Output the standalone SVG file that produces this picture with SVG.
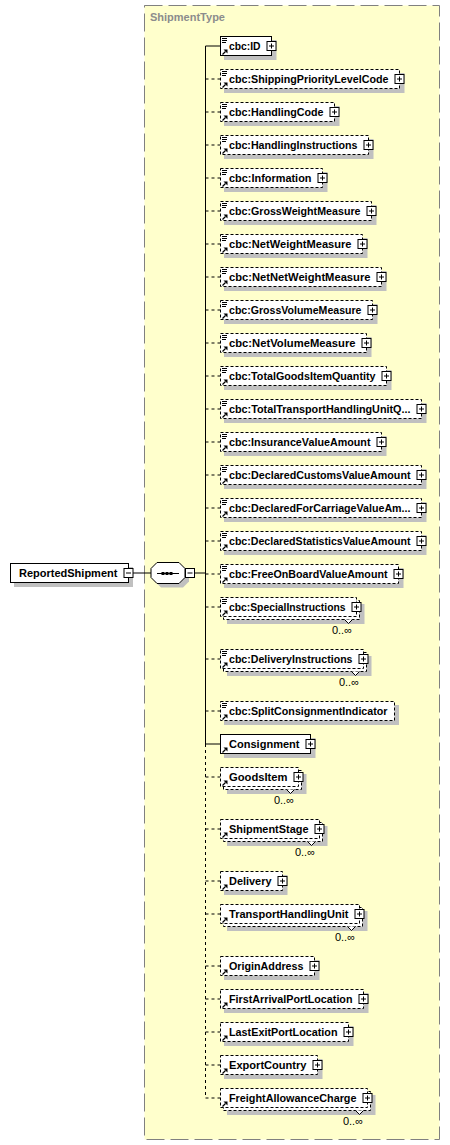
<svg xmlns="http://www.w3.org/2000/svg" xmlns:xlink="http://www.w3.org/1999/xlink" width="450" height="1145" viewBox="0 0 450 1145">
<style>
.sh{fill:#c0c0c0}
.bx{fill:#fff;stroke:#000;stroke-width:1}
.opt{stroke-dasharray:3,2}
.t{font-family:"Liberation Sans",Arial,sans-serif;font-size:11px;font-weight:bold;fill:#000}
.occ{font-family:"Liberation Sans",Arial,sans-serif;font-size:11px;fill:#000}
.ln{stroke:#000;stroke-width:1;fill:none}
.dl{stroke-dasharray:3,3}
.notch{fill:#fff;stroke:#000;stroke-width:1}
</style>
<defs>
<g id="plus"><rect x="-4.5" y="-4.5" width="9" height="9" fill="#fff" stroke="#000"/><path d="M-2.5,0H2.5M0,-2.5V2.5" stroke="#000"/></g>
<g id="minus"><rect x="-4.5" y="-4.5" width="9" height="9" fill="#fff" stroke="#000"/><path d="M-2.5,0H2.5" stroke="#000"/></g>
<g id="doc"><path d="M222,-7.5H227M222,-5.5H227M222,-3.5H226" stroke="#000" stroke-width="1"/></g>
<g id="arr"><path d="M222.5,8.5L225.5,5.5" stroke="#000" stroke-width="1.3"/><polygon points="223.5,3.5 227.5,3.5 227.5,7.5" fill="#000"/></g>
</defs>

<g id="ShipmentType">
<rect x="144.5" y="5.5" width="295" height="1134" fill="#ffffcc" stroke="#808080" stroke-dasharray="18,6"/>
<text x="150" y="21" style="font-family:'Liberation Sans',Arial,sans-serif;font-size:11px;font-weight:bold;fill:#8c8c8c">ShipmentType</text>
</g>

<g id="connectors">
<path class="ln" d="M133,573H151M194.5,573H205.5"/>
<path class="ln" d="M205.5,46V744"/>
<path class="ln dl" d="M205.5,744V1098"/>
<path class="ln" d="M205.5,46H220.5M205.5,744H220.5"/>
<path class="ln dl" d="M205.5,79H220.5M205.5,112H220.5M205.5,145H220.5M205.5,178H220.5M205.5,211H220.5M205.5,244H220.5M205.5,277H220.5M205.5,310H220.5M205.5,343H220.5M205.5,376H220.5M205.5,409H220.5M205.5,442H220.5M205.5,475H220.5M205.5,508H220.5M205.5,541H220.5M205.5,574H220.5M205.5,607H220.5M205.5,659H220.5M205.5,711H220.5M205.5,777H220.5M205.5,829H220.5M205.5,881H220.5M205.5,914H220.5M205.5,966H220.5M205.5,999H220.5M205.5,1032H220.5M205.5,1065H220.5M205.5,1098H220.5"/>
</g>

<g id="ReportedShipment">
<rect class="sh" x="14" y="567" width="119" height="20"/>
<rect class="bx" x="10.5" y="563.5" width="118" height="19"/>
<text class="t" x="19" y="577">ReportedShipment</text>
<use xlink:href="#minus" x="128.5" y="573"/>
</g>

<g id="sequence">
<polygon class="sh" points="161,566.5 183,566.5 189,572.5 189,581.5 183,587.5 161,587.5 155,581.5 155,572.5"/>
<polygon class="bx" points="157,562.5 179,562.5 185,568.5 185,577.5 179,583.5 157,583.5 151,577.5 151,568.5"/>
<path d="M157,573.5H179" stroke="#000"/>
<rect x="161.5" y="572" width="3" height="3" fill="#000"/>
<rect x="165.5" y="572" width="3" height="3" fill="#000"/>
<rect x="169.5" y="572" width="3" height="3" fill="#000"/>
<use xlink:href="#minus" x="190" y="573"/>
</g>

<g id="cbc-ID">
<rect class="sh" x="224" y="40" width="52.5" height="20"/>
<rect class="bx" x="220.5" y="36.5" width="51" height="19"/>
<use xlink:href="#doc" y="46"/><use xlink:href="#arr" y="46"/>
<text class="t" x="229" y="50" textLength="31.5" lengthAdjust="spacingAndGlyphs">cbc:ID</text>
<use xlink:href="#plus" x="271.5" y="46"/>
</g>

<g id="cbc-ShippingPriorityLevelCode">
<rect class="sh" x="224" y="73" width="180.5" height="20"/>
<rect class="bx opt" x="220.5" y="69.5" width="179" height="19"/>
<use xlink:href="#doc" y="79"/><use xlink:href="#arr" y="79"/>
<text class="t" x="229" y="83" textLength="159.5" lengthAdjust="spacingAndGlyphs">cbc:ShippingPriorityLevelCode</text>
<use xlink:href="#plus" x="399.5" y="79"/>
</g>

<g id="cbc-HandlingCode">
<rect class="sh" x="224" y="106" width="115.5" height="20"/>
<rect class="bx opt" x="220.5" y="102.5" width="114" height="19"/>
<use xlink:href="#doc" y="112"/><use xlink:href="#arr" y="112"/>
<text class="t" x="229" y="116" textLength="94.5" lengthAdjust="spacingAndGlyphs">cbc:HandlingCode</text>
<use xlink:href="#plus" x="334.5" y="112"/>
</g>

<g id="cbc-HandlingInstructions">
<rect class="sh" x="224" y="139" width="149.5" height="20"/>
<rect class="bx opt" x="220.5" y="135.5" width="148" height="19"/>
<use xlink:href="#doc" y="145"/><use xlink:href="#arr" y="145"/>
<text class="t" x="229" y="149" textLength="128.5" lengthAdjust="spacingAndGlyphs">cbc:HandlingInstructions</text>
<use xlink:href="#plus" x="368.5" y="145"/>
</g>

<g id="cbc-Information">
<rect class="sh" x="224" y="172" width="103.5" height="20"/>
<rect class="bx opt" x="220.5" y="168.5" width="102" height="19"/>
<use xlink:href="#doc" y="178"/><use xlink:href="#arr" y="178"/>
<text class="t" x="229" y="182" textLength="82.5" lengthAdjust="spacingAndGlyphs">cbc:Information</text>
<use xlink:href="#plus" x="322.5" y="178"/>
</g>

<g id="cbc-GrossWeightMeasure">
<rect class="sh" x="224" y="205" width="152.5" height="20"/>
<rect class="bx opt" x="220.5" y="201.5" width="151" height="19"/>
<use xlink:href="#doc" y="211"/><use xlink:href="#arr" y="211"/>
<text class="t" x="229" y="215" textLength="131.5" lengthAdjust="spacingAndGlyphs">cbc:GrossWeightMeasure</text>
<use xlink:href="#plus" x="371.5" y="211"/>
</g>

<g id="cbc-NetWeightMeasure">
<rect class="sh" x="224" y="238" width="143.5" height="20"/>
<rect class="bx opt" x="220.5" y="234.5" width="142" height="19"/>
<use xlink:href="#doc" y="244"/><use xlink:href="#arr" y="244"/>
<text class="t" x="229" y="248" textLength="122.5" lengthAdjust="spacingAndGlyphs">cbc:NetWeightMeasure</text>
<use xlink:href="#plus" x="362.5" y="244"/>
</g>

<g id="cbc-NetNetWeightMeasure">
<rect class="sh" x="224" y="271" width="162.5" height="20"/>
<rect class="bx opt" x="220.5" y="267.5" width="161" height="19"/>
<use xlink:href="#doc" y="277"/><use xlink:href="#arr" y="277"/>
<text class="t" x="229" y="281" textLength="141.5" lengthAdjust="spacingAndGlyphs">cbc:NetNetWeightMeasure</text>
<use xlink:href="#plus" x="381.5" y="277"/>
</g>

<g id="cbc-GrossVolumeMeasure">
<rect class="sh" x="224" y="304" width="153.5" height="20"/>
<rect class="bx opt" x="220.5" y="300.5" width="152" height="19"/>
<use xlink:href="#doc" y="310"/><use xlink:href="#arr" y="310"/>
<text class="t" x="229" y="314" textLength="132.5" lengthAdjust="spacingAndGlyphs">cbc:GrossVolumeMeasure</text>
<use xlink:href="#plus" x="372.5" y="310"/>
</g>

<g id="cbc-NetVolumeMeasure">
<rect class="sh" x="224" y="337" width="147.5" height="20"/>
<rect class="bx opt" x="220.5" y="333.5" width="146" height="19"/>
<use xlink:href="#doc" y="343"/><use xlink:href="#arr" y="343"/>
<text class="t" x="229" y="347" textLength="126.5" lengthAdjust="spacingAndGlyphs">cbc:NetVolumeMeasure</text>
<use xlink:href="#plus" x="366.5" y="343"/>
</g>

<g id="cbc-TotalGoodsItemQuantity">
<rect class="sh" x="224" y="370" width="167.5" height="20"/>
<rect class="bx opt" x="220.5" y="366.5" width="166" height="19"/>
<use xlink:href="#doc" y="376"/><use xlink:href="#arr" y="376"/>
<text class="t" x="229" y="380" textLength="146.5" lengthAdjust="spacingAndGlyphs">cbc:TotalGoodsItemQuantity</text>
<use xlink:href="#plus" x="386.5" y="376"/>
</g>

<g id="cbc-TotalTransportHandlingUnitQuantity">
<rect class="sh" x="224" y="403" width="202.5" height="20"/>
<rect class="bx opt" x="220.5" y="399.5" width="201" height="19"/>
<use xlink:href="#doc" y="409"/><use xlink:href="#arr" y="409"/>
<text class="t" x="229" y="413" textLength="181.5" lengthAdjust="spacingAndGlyphs">cbc:TotalTransportHandlingUnitQ...</text>
<use xlink:href="#plus" x="421.5" y="409"/>
</g>

<g id="cbc-InsuranceValueAmount">
<rect class="sh" x="224" y="436" width="162.5" height="20"/>
<rect class="bx opt" x="220.5" y="432.5" width="161" height="19"/>
<use xlink:href="#doc" y="442"/><use xlink:href="#arr" y="442"/>
<text class="t" x="229" y="446" textLength="141.5" lengthAdjust="spacingAndGlyphs">cbc:InsuranceValueAmount</text>
<use xlink:href="#plus" x="381.5" y="442"/>
</g>

<g id="cbc-DeclaredCustomsValueAmount">
<rect class="sh" x="224" y="469" width="202.5" height="20"/>
<rect class="bx opt" x="220.5" y="465.5" width="201" height="19"/>
<use xlink:href="#doc" y="475"/><use xlink:href="#arr" y="475"/>
<text class="t" x="229" y="479" textLength="181.5" lengthAdjust="spacingAndGlyphs">cbc:DeclaredCustomsValueAmount</text>
<use xlink:href="#plus" x="421.5" y="475"/>
</g>

<g id="cbc-DeclaredForCarriageValueAmount">
<rect class="sh" x="224" y="502" width="202.5" height="20"/>
<rect class="bx opt" x="220.5" y="498.5" width="201" height="19"/>
<use xlink:href="#doc" y="508"/><use xlink:href="#arr" y="508"/>
<text class="t" x="229" y="512" textLength="181.5" lengthAdjust="spacingAndGlyphs">cbc:DeclaredForCarriageValueAm...</text>
<use xlink:href="#plus" x="421.5" y="508"/>
</g>

<g id="cbc-DeclaredStatisticsValueAmount">
<rect class="sh" x="224" y="535" width="202.5" height="20"/>
<rect class="bx opt" x="220.5" y="531.5" width="201" height="19"/>
<use xlink:href="#doc" y="541"/><use xlink:href="#arr" y="541"/>
<text class="t" x="229" y="545" textLength="181.5" lengthAdjust="spacingAndGlyphs">cbc:DeclaredStatisticsValueAmount</text>
<use xlink:href="#plus" x="421.5" y="541"/>
</g>

<g id="cbc-FreeOnBoardValueAmount">
<rect class="sh" x="224" y="568" width="179.5" height="20"/>
<rect class="bx opt" x="220.5" y="564.5" width="178" height="19"/>
<use xlink:href="#doc" y="574"/><use xlink:href="#arr" y="574"/>
<text class="t" x="229" y="578" textLength="158.5" lengthAdjust="spacingAndGlyphs">cbc:FreeOnBoardValueAmount</text>
<use xlink:href="#plus" x="398.5" y="574"/>
</g>

<g id="cbc-SpecialInstructions">
<rect class="sh" x="227" y="604" width="137.5" height="20"/>
<rect class="bx opt" x="223.5" y="600.5" width="136" height="19"/>
<polyline class="notch" points="344.5,619.5 348.5,623.5 352.5,619.5"/>
<rect class="bx opt" x="220.5" y="597.5" width="136" height="19"/>
<use xlink:href="#doc" y="607"/><use xlink:href="#arr" y="607"/>
<text class="t" x="229" y="611" textLength="116.5" lengthAdjust="spacingAndGlyphs">cbc:SpecialInstructions</text>
<use xlink:href="#plus" x="356.5" y="607"/>
<text class="occ" x="352" y="634" text-anchor="end">0..∞</text>
</g>

<g id="cbc-DeliveryInstructions">
<rect class="sh" x="227" y="656" width="144.5" height="20"/>
<rect class="bx opt" x="223.5" y="652.5" width="143" height="19"/>
<polyline class="notch" points="351.5,671.5 355.5,675.5 359.5,671.5"/>
<rect class="bx opt" x="220.5" y="649.5" width="143" height="19"/>
<use xlink:href="#doc" y="659"/><use xlink:href="#arr" y="659"/>
<text class="t" x="229" y="663" textLength="123.5" lengthAdjust="spacingAndGlyphs">cbc:DeliveryInstructions</text>
<use xlink:href="#plus" x="363.5" y="659"/>
<text class="occ" x="359" y="686" text-anchor="end">0..∞</text>
</g>

<g id="cbc-SplitConsignmentIndicator">
<rect class="sh" x="224" y="705" width="175" height="20"/>
<rect class="bx opt" x="220.5" y="701.5" width="174" height="19"/>
<use xlink:href="#doc" y="711"/><use xlink:href="#arr" y="711"/>
<text class="t" x="229" y="715" textLength="158.5" lengthAdjust="spacingAndGlyphs">cbc:SplitConsignmentIndicator</text>
</g>

<g id="Consignment">
<rect class="sh" x="224" y="738" width="91.5" height="20"/>
<rect class="bx" x="220.5" y="734.5" width="90" height="19"/>
<use xlink:href="#arr" y="744"/>
<text class="t" x="229" y="748" textLength="70.5" lengthAdjust="spacingAndGlyphs">Consignment</text>
<use xlink:href="#plus" x="310.5" y="744"/>
</g>

<g id="GoodsItem">
<rect class="sh" x="227" y="774" width="79.5" height="20"/>
<rect class="bx opt" x="223.5" y="770.5" width="78" height="19"/>
<polyline class="notch" points="286.5,789.5 290.5,793.5 294.5,789.5"/>
<rect class="bx opt" x="220.5" y="767.5" width="78" height="19"/>
<use xlink:href="#arr" y="777"/>
<text class="t" x="229" y="781" textLength="58.5" lengthAdjust="spacingAndGlyphs">GoodsItem</text>
<use xlink:href="#plus" x="298.5" y="777"/>
<text class="occ" x="294" y="804" text-anchor="end">0..∞</text>
</g>

<g id="ShipmentStage">
<rect class="sh" x="227" y="826" width="100.5" height="20"/>
<rect class="bx opt" x="223.5" y="822.5" width="99" height="19"/>
<polyline class="notch" points="307.5,841.5 311.5,845.5 315.5,841.5"/>
<rect class="bx opt" x="220.5" y="819.5" width="99" height="19"/>
<use xlink:href="#arr" y="829"/>
<text class="t" x="229" y="833" textLength="79.5" lengthAdjust="spacingAndGlyphs">ShipmentStage</text>
<use xlink:href="#plus" x="319.5" y="829"/>
<text class="occ" x="315" y="856" text-anchor="end">0..∞</text>
</g>

<g id="Delivery">
<rect class="sh" x="224" y="875" width="63.5" height="20"/>
<rect class="bx opt" x="220.5" y="871.5" width="62" height="19"/>
<use xlink:href="#arr" y="881"/>
<text class="t" x="229" y="885" textLength="42.5" lengthAdjust="spacingAndGlyphs">Delivery</text>
<use xlink:href="#plus" x="282.5" y="881"/>
</g>

<g id="TransportHandlingUnit">
<rect class="sh" x="227" y="911" width="140.5" height="20"/>
<rect class="bx opt" x="223.5" y="907.5" width="139" height="19"/>
<polyline class="notch" points="347.5,926.5 351.5,930.5 355.5,926.5"/>
<rect class="bx opt" x="220.5" y="904.5" width="139" height="19"/>
<use xlink:href="#arr" y="914"/>
<text class="t" x="229" y="918" textLength="119.5" lengthAdjust="spacingAndGlyphs">TransportHandlingUnit</text>
<use xlink:href="#plus" x="359.5" y="914"/>
<text class="occ" x="355" y="941" text-anchor="end">0..∞</text>
</g>

<g id="OriginAddress">
<rect class="sh" x="224" y="960" width="95.5" height="20"/>
<rect class="bx opt" x="220.5" y="956.5" width="94" height="19"/>
<use xlink:href="#arr" y="966"/>
<text class="t" x="229" y="970" textLength="74.5" lengthAdjust="spacingAndGlyphs">OriginAddress</text>
<use xlink:href="#plus" x="314.5" y="966"/>
</g>

<g id="FirstArrivalPortLocation">
<rect class="sh" x="224" y="993" width="144.5" height="20"/>
<rect class="bx opt" x="220.5" y="989.5" width="143" height="19"/>
<use xlink:href="#arr" y="999"/>
<text class="t" x="229" y="1003" textLength="123.5" lengthAdjust="spacingAndGlyphs">FirstArrivalPortLocation</text>
<use xlink:href="#plus" x="363.5" y="999"/>
</g>

<g id="LastExitPortLocation">
<rect class="sh" x="224" y="1026" width="129.5" height="20"/>
<rect class="bx opt" x="220.5" y="1022.5" width="128" height="19"/>
<use xlink:href="#arr" y="1032"/>
<text class="t" x="229" y="1036" textLength="108.5" lengthAdjust="spacingAndGlyphs">LastExitPortLocation</text>
<use xlink:href="#plus" x="348.5" y="1032"/>
</g>

<g id="ExportCountry">
<rect class="sh" x="224" y="1059" width="98.5" height="20"/>
<rect class="bx opt" x="220.5" y="1055.5" width="97" height="19"/>
<use xlink:href="#arr" y="1065"/>
<text class="t" x="229" y="1069" textLength="77.5" lengthAdjust="spacingAndGlyphs">ExportCountry</text>
<use xlink:href="#plus" x="317.5" y="1065"/>
</g>

<g id="FreightAllowanceCharge">
<rect class="sh" x="227" y="1095" width="148.5" height="20"/>
<rect class="bx opt" x="223.5" y="1091.5" width="147" height="19"/>
<polyline class="notch" points="355.5,1110.5 359.5,1114.5 363.5,1110.5"/>
<rect class="bx opt" x="220.5" y="1088.5" width="147" height="19"/>
<use xlink:href="#arr" y="1098"/>
<text class="t" x="229" y="1102" textLength="127.5" lengthAdjust="spacingAndGlyphs">FreightAllowanceCharge</text>
<use xlink:href="#plus" x="367.5" y="1098"/>
<text class="occ" x="363" y="1125" text-anchor="end">0..∞</text>
</g>
</svg>
